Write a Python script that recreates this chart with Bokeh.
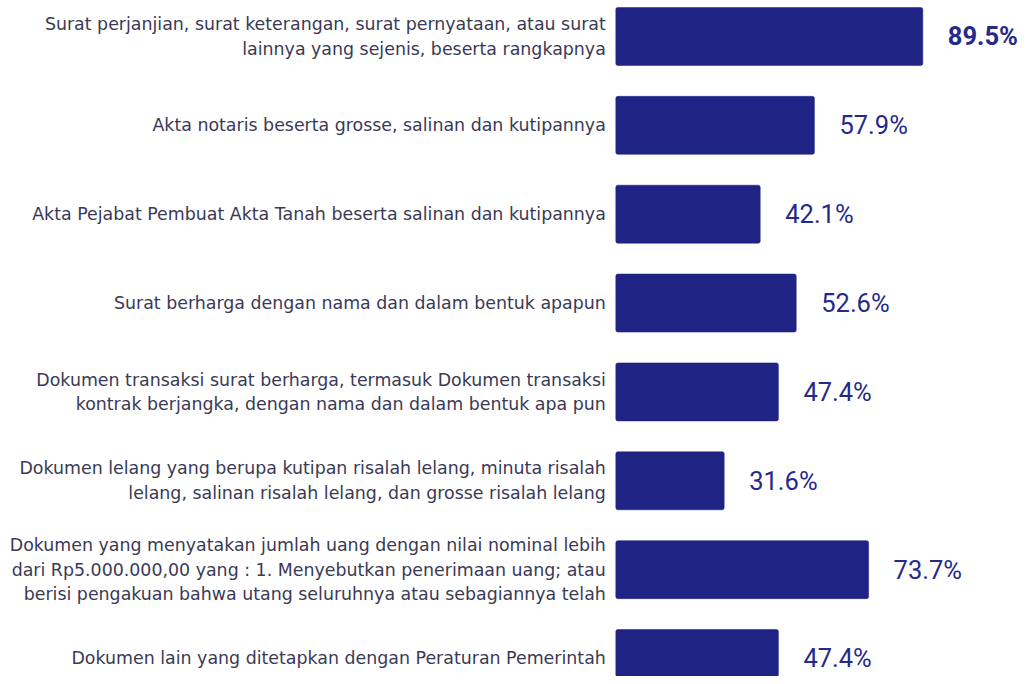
from bokeh.plotting import figure
from bokeh.models import ColumnDataSource, Range1d
from bokeh.core.properties import value
from bokeh.embed import file_html
from bokeh.resources import INLINE

categories = [
    "Surat perjanjian, surat keterangan, surat pernyataan, atau surat\nlainnya yang sejenis, beserta rangkapnya",
    "Akta notaris beserta grosse, salinan dan kutipannya",
    "Akta Pejabat Pembuat Akta Tanah beserta salinan dan kutipannya",
    "Surat berharga dengan nama dan dalam bentuk apapun",
    "Dokumen transaksi surat berharga, termasuk Dokumen transaksi\nkontrak berjangka, dengan nama dan dalam bentuk apa pun",
    "Dokumen lelang yang berupa kutipan risalah lelang, minuta risalah\nlelang, salinan risalah lelang, dan grosse risalah lelang",
    "Dokumen yang menyatakan jumlah uang dengan nilai nominal lebih\ndari Rp5.000.000,00 yang : 1. Menyebutkan penerimaan uang; atau\nberisi pengakuan bahwa utang seluruhnya atau sebagiannya telah",
    "Dokumen lain yang ditetapkan dengan Peraturan Pemerintah",
]
values = [89.5, 57.9, 42.1, 52.6, 47.4, 31.6, 73.7, 47.4]
value_labels = ["89.5%", "57.9%", "42.1%", "52.6%", "47.4%", "31.6%", "73.7%", "47.4%"]
label_styles = ["bold", "normal", "normal", "normal", "normal", "normal", "normal", "normal"]

pos = list(range(len(categories)))
src = ColumnDataSource(dict(y=pos, v=values, cat=categories, lab=value_labels,
                            style=label_styles, zero=[0] * len(pos)))

BAR = "#1f2383"
p = figure(width=1018, height=676, output_backend="svg", toolbar_location=None,
           x_range=Range1d(-179.39, 117.4), y_range=Range1d(7.2026, -0.405),
           min_border=0, min_border_left=0, min_border_right=0,
           min_border_top=0, min_border_bottom=0)
p.xaxis.visible = False
p.yaxis.visible = False
p.grid.visible = False
p.outline_line_color = None
p.background_fill_color = "white"
p.border_fill_color = "white"

p.hbar(y="y", left=0, right="v", height=0.653, source=src, fill_color=BAR,
       line_color=BAR, line_width=0.5, border_radius=2)

p.text(x="zero", y="y", text="cat", source=src, x_offset=-10,
       text_align="right", text_baseline="middle",
       text_font=value("DejaVu Sans"), text_font_size="17.4px",
       text_color="#3a3a56", text_line_height=1.24)

p.text(x="v", y="y", text="lab", source=src, x_offset=25,
       text_align="left", text_baseline="middle",
       text_font=value("Roboto"), text_font_size="25.5px",
       text_font_style="style", text_color="#252a8a")

open("out.html", "w").write(file_html(p, INLINE))
